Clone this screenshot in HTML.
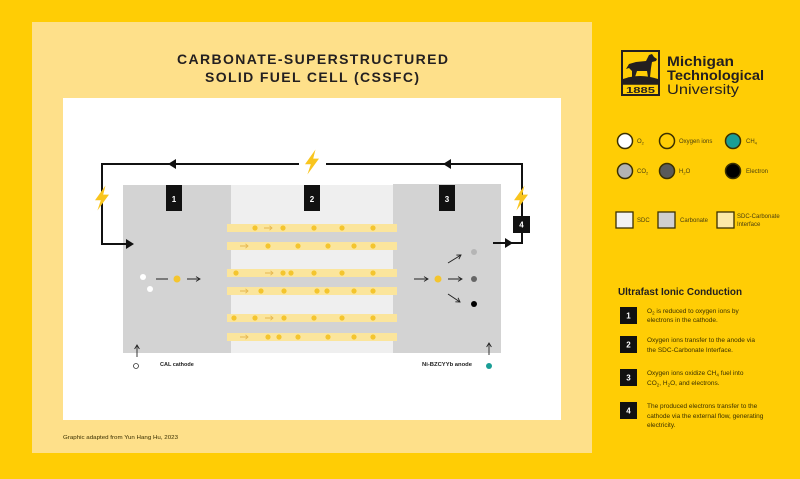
<!DOCTYPE html>
<html><head><meta charset="utf-8"><style>
html,body{margin:0;padding:0;}
body{width:800px;height:479px;overflow:hidden;background:#FFCD05;}
svg{display:block;}
text{font-family:"Liberation Sans",sans-serif;}
</style></head><body>
<svg width="800" height="479" viewBox="0 0 800 479" xmlns="http://www.w3.org/2000/svg">
<defs>
<marker id="ah" markerWidth="6" markerHeight="6" refX="5" refY="3" orient="auto" markerUnits="userSpaceOnUse"><path d="M1,0.6 L5,3 L1,5.4" fill="none" stroke="#222" stroke-width="0.9"/></marker>
<g id="bolt"><path d="M3.5,-12.5 L-7,2.3 L-1.2,2.3 L-4.6,12.5 L7,-3.4 L1.2,-3.4 Z" fill="#F9C51E"/></g>
</defs>
<rect width="800" height="479" fill="#FFCD05"/>
<rect x="32" y="22" width="560" height="431" fill="#FEE08A"/>
<rect x="63" y="98" width="498" height="322" fill="#FFFFFF"/>

<!-- Title -->
<text x="177" y="64" font-size="14" font-weight="bold" fill="#231F20" textLength="271" lengthAdjust="spacing">CARBONATE-SUPERSTRUCTURED</text>
<text x="205" y="82" font-size="14" font-weight="bold" fill="#231F20" textLength="214" lengthAdjust="spacing">SOLID FUEL CELL (CSSFC)</text>

<!-- cell regions -->
<rect x="123" y="185" width="108" height="168" fill="#D3D3D3"/>
<rect x="231" y="185" width="162" height="168" fill="#EFEFEF"/>
<rect x="393" y="184" width="108" height="169" fill="#D3D3D3"/>
<rect x="227" y="232" width="170" height="10" fill="#D3D3D3"/>
<rect x="227" y="277" width="170" height="10" fill="#D3D3D3"/>
<rect x="227" y="322" width="170" height="11" fill="#D3D3D3"/>
<g fill="#FBE59C">
<rect x="227" y="224" width="170" height="8"/>
<rect x="227" y="242" width="170" height="8"/>
<rect x="227" y="269" width="170" height="8"/>
<rect x="227" y="287" width="170" height="8"/>
<rect x="227" y="314" width="170" height="8"/>
<rect x="227" y="333" width="170" height="8"/>
</g>
<g fill="#F4C52E">
<circle cx="255" cy="228" r="2.6"/><circle cx="283" cy="228" r="2.6"/><circle cx="314" cy="228" r="2.6"/><circle cx="342" cy="228" r="2.6"/><circle cx="373" cy="228" r="2.6"/>
<circle cx="268" cy="246" r="2.6"/><circle cx="298" cy="246" r="2.6"/><circle cx="328" cy="246" r="2.6"/><circle cx="354" cy="246" r="2.6"/><circle cx="373" cy="246" r="2.6"/>
<circle cx="236" cy="273" r="2.6"/><circle cx="283" cy="273" r="2.6"/><circle cx="291" cy="273" r="2.6"/><circle cx="314" cy="273" r="2.6"/><circle cx="342" cy="273" r="2.6"/><circle cx="373" cy="273" r="2.6"/>
<circle cx="261" cy="291" r="2.6"/><circle cx="284" cy="291" r="2.6"/><circle cx="317" cy="291" r="2.6"/><circle cx="327" cy="291" r="2.6"/><circle cx="354" cy="291" r="2.6"/><circle cx="373" cy="291" r="2.6"/>
<circle cx="234" cy="318" r="2.6"/><circle cx="255" cy="318" r="2.6"/><circle cx="284" cy="318" r="2.6"/><circle cx="314" cy="318" r="2.6"/><circle cx="342" cy="318" r="2.6"/><circle cx="373" cy="318" r="2.6"/>
<circle cx="268" cy="337" r="2.6"/><circle cx="279" cy="337" r="2.6"/><circle cx="298" cy="337" r="2.6"/><circle cx="328" cy="337" r="2.6"/><circle cx="354" cy="337" r="2.6"/><circle cx="373" cy="337" r="2.6"/>
</g>
<g stroke="#E6B850" stroke-width="0.9" fill="none">
<path d="M264,228 H272 M269.5,225.8 L272,228 L269.5,230.2"/>
<path d="M240,246 H248 M245.5,243.8 L248,246 L245.5,248.2"/>
<path d="M265,273 H273 M270.5,270.8 L273,273 L270.5,275.2"/>
<path d="M240,291 H248 M245.5,288.8 L248,291 L245.5,293.2"/>
<path d="M265,318 H273 M270.5,315.8 L273,318 L270.5,320.2"/>
<path d="M240,337 H248 M245.5,334.8 L248,337 L245.5,339.2"/>
</g>

<!-- wires -->
<g stroke="#111" stroke-width="2" fill="none">
<path d="M299,164 L102,164 L102,244 L128,244"/>
<path d="M326,164 L522,164 L522,243 L493,243"/>
</g>
<g fill="#111">
<path d="M134,244 L126,239 L126,249 Z"/>
<path d="M168,164 L176,159 L176,169 Z"/>
<path d="M443,164 L451,159 L451,169 Z"/>
<path d="M513,243 L505,238 L505,248 Z"/>
</g>
<use href="#bolt" transform="translate(312,162)"/>
<use href="#bolt" transform="translate(102,198)"/>
<use href="#bolt" transform="translate(521,198)"/>

<!-- number boxes -->
<g fill="#111"><rect x="166" y="185" width="16" height="26"/><rect x="304" y="185" width="16" height="26"/><rect x="439" y="185" width="16" height="26"/><rect x="513" y="216" width="17" height="17"/></g>
<g fill="#fff" font-size="8" font-weight="bold" text-anchor="middle">
<text x="174" y="202">1</text><text x="312" y="202">2</text><text x="447" y="202">3</text><text x="521.5" y="227.5">4</text>
</g>

<!-- cathode reaction -->
<circle cx="143" cy="277" r="3" fill="#fff"/>
<circle cx="150" cy="289" r="3" fill="#fff"/>
<line x1="156" y1="279" x2="168" y2="279" stroke="#222" stroke-width="1"/>
<circle cx="177" cy="279" r="3.5" fill="#F4C52E"/>
<line x1="187" y1="279" x2="200" y2="279" stroke="#222" stroke-width="1" marker-end="url(#ah)"/>

<!-- anode reaction -->
<g stroke="#222" stroke-width="1" marker-end="url(#ah)">
<line x1="414" y1="279" x2="428" y2="279"/>
<line x1="448" y1="279" x2="462" y2="279"/>
<line x1="448" y1="263" x2="461" y2="255"/>
<line x1="448" y1="294" x2="460" y2="302"/>
</g>
<circle cx="438" cy="279" r="3.5" fill="#F4C52E"/>
<circle cx="474" cy="252" r="3" fill="#B5B5B5"/>
<circle cx="474" cy="279" r="3" fill="#666"/>
<circle cx="474" cy="304" r="3" fill="#000"/>

<!-- bottom labels -->
<line x1="137" y1="357" x2="137" y2="345" stroke="#222" stroke-width="0.9" marker-end="url(#ah)"/>
<circle cx="136" cy="366" r="2.5" fill="#fff" stroke="#333" stroke-width="0.8"/>
<text x="160" y="366" font-size="5.5" font-weight="bold" fill="#222">CAL cathode</text>
<line x1="489" y1="355" x2="489" y2="343" stroke="#222" stroke-width="0.9" marker-end="url(#ah)"/>
<circle cx="489" cy="366" r="3" fill="#1A9E96"/>
<text x="422" y="366" font-size="5.5" font-weight="bold" fill="#222" textLength="50" lengthAdjust="spacingAndGlyphs">Ni-BZCYYb anode</text>

<text x="63" y="439" font-size="5.5" fill="#3a3000" textLength="115" lengthAdjust="spacingAndGlyphs">Graphic adapted from Yun Hang Hu, 2023</text>

<!-- Logo -->
<rect x="622" y="51" width="37" height="44" fill="none" stroke="#231F20" stroke-width="2"/>
<line x1="622" y1="84" x2="659" y2="84" stroke="#231F20" stroke-width="1.5"/>
<path d="M623,84 L623,79 Q640,73 658,79 L658,84 Z" fill="#231F20"/>
<path d="M626,69 L629,64 L636,62 L646,61 L649,55 L652,54 L654,57 L657,59 L656,61 L652,62 L651,68 L650,77 L648,77 L647,71 L637,71 L635,77 L632,77 L632,71 L629,68 Z" fill="#231F20"/>
<text x="626" y="93" font-size="8" font-weight="bold" fill="#231F20" textLength="29" lengthAdjust="spacingAndGlyphs">1885</text>
<text x="667" y="66" font-family="DejaVu Serif, Liberation Serif, serif" font-size="14" font-weight="bold" fill="#231F20" textLength="67" lengthAdjust="spacingAndGlyphs">Michigan</text>
<text x="667" y="80" font-family="DejaVu Serif, Liberation Serif, serif" font-size="14" font-weight="bold" fill="#231F20" textLength="97" lengthAdjust="spacingAndGlyphs">Technological</text>
<text x="667" y="94" font-family="DejaVu Serif, Liberation Serif, serif" font-size="14" fill="#231F20" textLength="72" lengthAdjust="spacingAndGlyphs">University</text>

<!-- Legend circles -->
<g stroke="#3b3000" stroke-width="1.5">
<circle cx="625" cy="141" r="7.5" fill="#fff"/>
<circle cx="667" cy="141" r="7.5" fill="#FFCD05"/>
<circle cx="733" cy="141" r="7.5" fill="#1A9E96"/>
<circle cx="625" cy="171" r="7.5" fill="#B3B3B3"/>
<circle cx="667" cy="171" r="7.5" fill="#5A5A5A"/>
<circle cx="733" cy="171" r="7.5" fill="#000"/>
</g>
<g font-size="6" fill="#4a3f10">
<text x="637" y="143">O<tspan font-size="4" dy="1.5">2</tspan></text>
<text x="679" y="143">Oxygen ions</text>
<text x="746" y="143">CH<tspan font-size="4" dy="1.5">4</tspan></text>
<text x="637" y="173">CO<tspan font-size="4" dy="1.5">2</tspan></text>
<text x="679" y="173">H<tspan font-size="4" dy="1.5">2</tspan><tspan dy="-1.5">O</tspan></text>
<text x="746" y="173">Electron</text>
<text x="637" y="222">SDC</text>
<text x="680" y="222">Carbonate</text>
<text x="737" y="218">SDC-Carbonate</text>
<text x="737" y="226">Interface</text>
</g>
<g stroke="#3b3000" stroke-width="1.3">
<rect x="616" y="212" width="17" height="16" fill="#F2F2F2"/>
<rect x="658" y="212" width="17" height="16" fill="#CFCFCF"/>
<rect x="717" y="212" width="17" height="16" fill="#FCE9A8"/>
</g>

<!-- Ultrafast Ionic Conduction -->
<text x="618" y="295" font-size="10" font-weight="bold" fill="#231F20" textLength="124" lengthAdjust="spacingAndGlyphs">Ultrafast Ionic Conduction</text>
<g fill="#111">
<rect x="620" y="307" width="17" height="17"/>
<rect x="620" y="336" width="17" height="17"/>
<rect x="620" y="369" width="17" height="17"/>
<rect x="620" y="402" width="17" height="17"/>
</g>
<g fill="#fff" font-size="8" font-weight="bold" text-anchor="middle">
<text x="628.5" y="318.5">1</text><text x="628.5" y="347.5">2</text><text x="628.5" y="380.5">3</text><text x="628.5" y="413.5">4</text>
</g>
<g font-size="6.5" fill="#3a3000">
<text x="647" y="313">O<tspan font-size="4.5" dy="1.5">2</tspan><tspan dy="-1.5"> is reduced to oxygen ions by</tspan></text>
<text x="647" y="322">electrons in the cathode.</text>
<text x="647" y="342">Oxygen ions transfer to the anode via</text>
<text x="647" y="352">the SDC-Carbonate Interface.</text>
<text x="647" y="375">Oxygen ions oxidize CH<tspan font-size="4.5" dy="1.5">4</tspan><tspan dy="-1.5"> fuel into</tspan></text>
<text x="647" y="385">CO<tspan font-size="4.5" dy="1.5">2</tspan><tspan dy="-1.5">, H</tspan><tspan font-size="4.5" dy="1.5">2</tspan><tspan dy="-1.5">O, and electrons.</tspan></text>
<text x="647" y="408">The produced electrons transfer to the</text>
<text x="647" y="418">cathode via the external flow, generating</text>
<text x="647" y="427">electricity.</text>
</g>
</svg>
</body></html>
